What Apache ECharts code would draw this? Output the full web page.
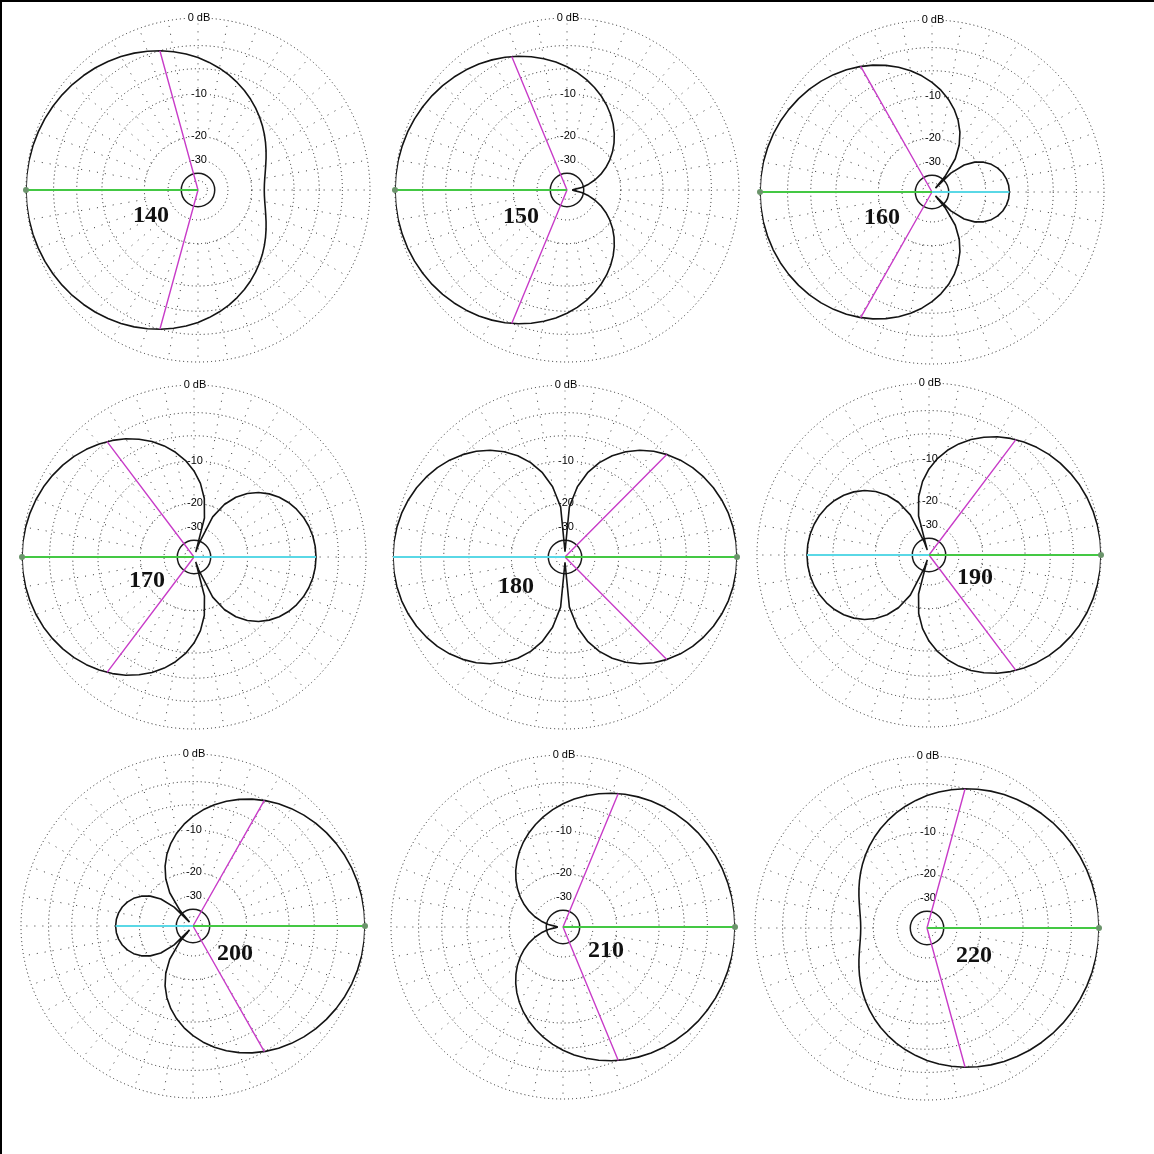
<!DOCTYPE html>
<html>
<head>
<meta charset="utf-8">
<script src="https://cdn.jsdelivr.net/npm/echarts@6/dist/echarts.min.js"></script>
<style>
html,body{margin:0;padding:0;background:#fff;}
#c{position:absolute;left:0;top:0;width:1154px;height:1154px;}
#frame{position:absolute;left:0;top:0;width:1154px;height:1154px;box-sizing:border-box;border-top:2px solid #000;border-left:2px solid #000;pointer-events:none;}
</style>
</head>
<body>
<div id="c"></div>
<div id="frame"></div>
<script>
// ---------------- DATA ----------------
// chart captions (phase setting of each plot)
const captions = ['140','150','160','170','180','190','200','210','220'];
// angle off the main-lobe direction (degrees), pattern is symmetric about the main-lobe axis
const psi = [0,5,10,15,20,25,30,35,40,45,50,55,60,65,70,75,80,85,90,95,100,105,110,115,120,125,130,135,140,145,150,155,160,165,170,175,180];
// relative level (dB) at each psi
const db140 = [0,-0.01,-0.05,-0.11,-0.20,-0.31,-0.45,-0.62,-0.81,-1.04,-1.29,-1.57,-1.88,-2.23,-2.61,-3.03,-3.48,-3.97,-4.49,-5.06,-5.66,-6.30,-6.99,-7.71,-8.47,-9.26,-10.08,-10.92,-11.77,-12.62,-13.44,-14.22,-14.93,-15.52,-15.98,-16.27,-16.37];
const db150 = [0,-0.02,-0.06,-0.14,-0.24,-0.38,-0.55,-0.75,-0.99,-1.27,-1.58,-1.93,-2.32,-2.76,-3.25,-3.78,-4.37,-5.01,-5.72,-6.50,-7.34,-8.28,-9.30,-10.42,-11.67,-13.04,-14.58,-16.30,-18.24,-20.48,-23.08,-26.19,-30.01,-34.97,-41.98,-54.0,-60];
const db160 = [0,-0.02,-0.07,-0.17,-0.30,-0.47,-0.69,-0.94,-1.24,-1.59,-1.99,-2.44,-2.96,-3.54,-4.19,-4.92,-5.74,-6.67,-7.73,-8.93,-10.33,-11.97,-13.94,-16.42,-19.73,-24.78,-36.6,-32.02,-24.21,-20.50,-18.17,-16.57,-15.44,-14.65,-14.12,-13.81,-13.71];
const db170 = [0,-0.02,-0.10,-0.22,-0.39,-0.61,-0.89,-1.22,-1.62,-2.09,-2.63,-3.25,-3.97,-4.81,-5.78,-6.91,-8.25,-9.86,-11.88,-14.50,-18.26,-24.88,-43.57,-23.31,-17.89,-14.71,-12.52,-10.88,-9.62,-8.62,-7.82,-7.19,-6.70,-6.34,-6.09,-5.94,-5.89];
const db180 = [0,-0.03,-0.13,-0.29,-0.53,-0.84,-1.23,-1.70,-2.27,-2.96,-3.78,-4.76,-5.95,-7.40,-9.23,-11.65,-15.11,-21.10,-60,-21.10,-15.11,-11.65,-9.23,-7.40,-5.95,-4.76,-3.78,-2.96,-2.27,-1.70,-1.23,-0.84,-0.53,-0.29,-0.13,-0.03,0];
const db190 = [0,-0.02,-0.10,-0.22,-0.39,-0.61,-0.89,-1.22,-1.62,-2.09,-2.63,-3.25,-3.97,-4.81,-5.78,-6.91,-8.25,-9.86,-11.88,-14.50,-18.26,-24.88,-43.57,-23.31,-17.89,-14.71,-12.52,-10.88,-9.62,-8.62,-7.82,-7.19,-6.70,-6.34,-6.09,-5.94,-5.89];
const db200 = [0,-0.02,-0.07,-0.17,-0.30,-0.47,-0.69,-0.94,-1.24,-1.59,-1.99,-2.44,-2.96,-3.54,-4.19,-4.92,-5.74,-6.67,-7.73,-8.93,-10.33,-11.97,-13.94,-16.42,-19.73,-24.78,-36.6,-32.02,-24.21,-20.50,-18.17,-16.57,-15.44,-14.65,-14.12,-13.81,-13.71];
const db210 = [0,-0.02,-0.06,-0.14,-0.24,-0.38,-0.55,-0.75,-0.99,-1.27,-1.58,-1.93,-2.32,-2.76,-3.25,-3.78,-4.37,-5.01,-5.72,-6.50,-7.34,-8.28,-9.30,-10.42,-11.67,-13.04,-14.58,-16.30,-18.24,-20.48,-23.08,-26.19,-30.01,-34.97,-41.98,-54.0,-60];
const db220 = [0,-0.01,-0.05,-0.11,-0.20,-0.31,-0.45,-0.62,-0.81,-1.04,-1.29,-1.57,-1.88,-2.23,-2.61,-3.03,-3.48,-3.97,-4.49,-5.06,-5.66,-6.30,-6.99,-7.71,-8.47,-9.26,-10.08,-10.92,-11.77,-12.62,-13.44,-14.22,-14.93,-15.52,-15.98,-16.27,-16.37];
const patterns = [db140, db150, db160, db170, db180, db190, db200, db210, db220];
// main lobe azimuth (deg, 0 = right, counter-clockwise)
const mainLobeDir = [180,180,180,180,0,0,0,0,0];
// half of the -3 dB beamwidth (deg)
const halfBeamwidth = [74.7,67.5,60.4,53.0,45.2,53.0,60.4,67.5,74.7];
// rear lobe level (dB), null = no rear lobe
const rearLobeDb = [null,null,-13.71,-5.89,0,-5.89,-13.71,null,null];
// null direction (psi, deg) where the pattern collapses to the centre
const nullPsi = [null,180,131.8,109.5,90,109.5,131.8,180,null];
const NULL_DB = -60;
// grid
const ringLevels = [0,-3,-6,-10,-20,-30,-40,-50];
const ringLabelText = {'0':'0 dB','-10':'-10','-20':'-20','-30':'-30'};
const spokeAngles = [0,10,20,30,40,50,60,70,80,90,100,110,120,130,140,150,160,170,180,190,200,210,220,230,240,250,260,270,280,290,300,310,320,330,340,350];

// ---------------- LAYOUT ----------------
const centers = [[198,190],[567,190],[932,192],[194,557],[565,557],[929,555],[193,926],[563,927],[927,928]];
const captionPos = [[151,216],[521,217],[882,218],[147,581],[516,587],[975,578],[235,954],[606,951],[974,956]];
const RADIUS = 172;

// ARRL log scale: each 2 dB = factor 0.89 in radius
function arrl(db){ return Math.pow(0.89, -Math.max(db, NULL_DB)/2); }
function norm(a){ a = a % 360; return a < 0 ? a + 360 : a; }

function ringRender(params, api){
  const lvl = api.value(2);
  const c = api.coord([0, 0]);
  const p = api.coord([arrl(lvl), 90]);
  const r = Math.hypot(p[0]-c[0], p[1]-c[1]);
  const solid = lvl === -40;
  const kids = [{
    type:'circle', shape:{cx:c[0], cy:c[1], r:r},
    style:{fill:'none', stroke: solid ? '#1a1a1a' : '#222', lineWidth: solid ? 1.5 : 1, lineDash: solid ? null : [1,3]}
  }];
  const t = ringLabelText[String(lvl)];
  if (t){
    kids.push({type:'text', z2:10, x:c[0]+1, y:c[1]-r,
      style:{text:t, fill:'#000', font:'11px "Liberation Sans", Arial, sans-serif',
        align:'center', verticalAlign:'middle', textAlign:'center', textVerticalAlign:'middle',
        backgroundColor:'#fff', padding:[0,1]}});
  }
  return {type:'group', children:kids};
}
function spokeRender(params, api){
  const a = api.value(1);
  const p1 = api.coord([arrl(-20), a]);
  const p2 = api.coord([1, a]);
  return {type:'line', shape:{x1:p1[0], y1:p1[1], x2:p2[0], y2:p2[1]},
    style:{stroke:'#333', lineWidth:1, lineDash:[1,7]}};
}

const series = [];
centers.forEach((c, i) => {
  const m = mainLobeDir[i];
  // spokes & rings
  series.push({type:'custom', coordinateSystem:'polar', polarIndex:i, silent:true, z:1,
    data: spokeAngles.map(a => [0, a]), renderItem: spokeRender});
  series.push({type:'custom', coordinateSystem:'polar', polarIndex:i, silent:true, z:2,
    data: ringLevels.map(l => [0, 0, l]), renderItem: ringRender});
  // pattern
  const pts = psi.map((p, k) => [p, patterns[i][k]]);
  if (nullPsi[i] !== null && psi.indexOf(nullPsi[i]) < 0) pts.push([nullPsi[i], NULL_DB]);
  pts.sort((a, b) => a[0] - b[0]);
  const upper = pts.map(([p, d]) => [arrl(d), m === 180 ? 180 - p : p]);
  const lower = pts.slice().reverse().map(([p, d]) => [arrl(d), m === 180 ? 180 + p : 360 - p]);
  series.push({type:'line', coordinateSystem:'polar', polarIndex:i, silent:true, z:5,
    data: upper.concat(lower), showSymbol:false, symbol:'none',
    lineStyle:{color:'#141414', width:1.6}});
  // -3 dB beamwidth lines
  const r3 = arrl(-3);
  series.push({type:'line', coordinateSystem:'polar', polarIndex:i, silent:true, z:6,
    data: [[r3, norm(m + halfBeamwidth[i])], [0, m], [r3, norm(m - halfBeamwidth[i])]],
    symbol:'none', lineStyle:{color:'#c83cc8', width:1.4}});
  // rear lobe line
  if (rearLobeDb[i] !== null){
    const rr = norm(m + 180);
    series.push({type:'line', coordinateSystem:'polar', polarIndex:i, silent:true, z:6,
      data: [[0, rr], [arrl(rearLobeDb[i]), rr]],
      symbol:'none', lineStyle:{color:'#5ad8e6', width:1.8}});
  }
  // main lobe line
  series.push({type:'line', coordinateSystem:'polar', polarIndex:i, silent:true, z:7,
    data: [{value:[0, m], symbol:'none'}, {value:[1, m], symbol:'circle', symbolSize:6}],
    itemStyle:{color:'#6b946b'}, lineStyle:{color:'#44c844', width:1.8}});
});

const option = {
  animation:false,
  backgroundColor:'#fff',
  polar: centers.map(c => ({center:c, radius:RADIUS})),
  angleAxis: centers.map((c, i) => ({polarIndex:i, type:'value', min:0, max:360, startAngle:0, clockwise:false, show:false})),
  radiusAxis: centers.map((c, i) => ({polarIndex:i, type:'value', min:0, max:1, show:false})),
  series: series,
  graphic: captions.map((t, i) => ({
    type:'text', x:captionPos[i][0], y:captionPos[i][1], z:100, silent:true,
    style:{text:t, fill:'#111', font:'bold 24px "Liberation Serif", "Times New Roman", serif',
      textAlign:'center', textVerticalAlign:'middle', align:'center', verticalAlign:'middle'}
  }))
};
const chart = echarts.init(document.getElementById('c'), null, {renderer:'canvas'});
chart.setOption(option);
</script>
</body>
</html>
